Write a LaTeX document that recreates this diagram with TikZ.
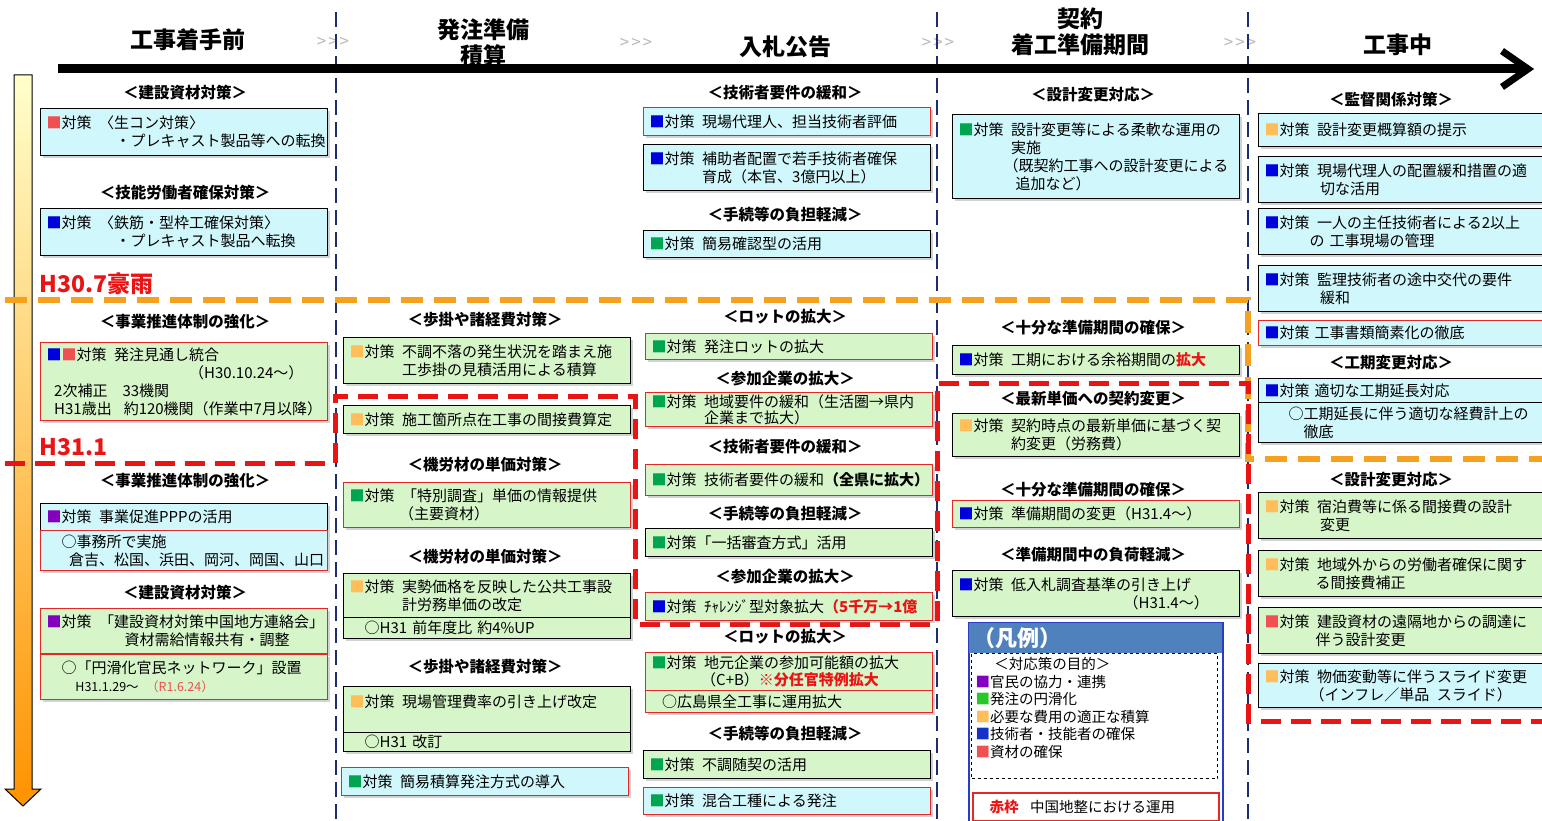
\documentclass[tikz,border=0pt]{standalone}
\usepackage{fontspec}
\setmainfont{Noto Sans CJK JP}
\usetikzlibrary{shadows}
\definecolor{cyanf}{RGB}{208,247,252}
\definecolor{greenf}{RGB}{214,246,202}
\definecolor{bred}{RGB}{228,40,40}
\definecolor{mred}{RGB}{240,80,80}
\definecolor{mblue}{RGB}{0,0,220}
\definecolor{mgreen}{RGB}{0,165,80}
\definecolor{morange}{RGB}{255,190,90}
\definecolor{mpurple}{RGB}{130,0,190}
\definecolor{lgreen}{RGB}{40,200,40}
\definecolor{lblue}{RGB}{20,50,200}
\definecolor{navy}{RGB}{30,45,110}
\definecolor{dorange}{RGB}{245,160,30}
\definecolor{dred}{RGB}{235,20,20}
\definecolor{legblue}{RGB}{79,129,189}
\definecolor{legedge}{RGB}{40,60,200}
\newcommand\mk[1]{\textcolor{#1}{■}}
\newcommand\tai{対策\hspace{0.5em}}
\newcommand\nb[1]{\mbox{#1}}
\newcommand\gts{>\kern2pt>\kern2pt>}
\tikzset{
  bx/.style={draw, line width=1.4pt, anchor=north west, text width=275pt,
    inner xsep=6pt, inner ysep=1pt, align=left,
    font=\fontsize{15}{18}\selectfont,
    drop shadow={shadow xshift=2pt, shadow yshift=-2.5pt, opacity=0.35}},
  cy/.style={bx, fill=cyanf},
  gr/.style={bx, fill=greenf},
  rb/.style={draw=bred},
  kb/.style={draw=black},
  hd/.style={font=\fontsize{15.5}{18}\selectfont\bfseries},
  top/.style={font=\fontsize{23}{25}\selectfont\bfseries},
  arr/.style={text=gray!55, font=\fontsize{17}{20}\selectfont},
  lab/.style={text=dred, anchor=west, font=\fontsize{23}{26}\selectfont\bfseries},
}
\begin{document}
\begin{tikzpicture}[x=1pt,y=-1pt]
\useasboundingbox (0,0) rectangle (1542,821);
\clip (0,0) rectangle (1542,821);
\fill[white] (0,0) rectangle (1542,821);

% header texts
\node[top] (t1) at (188,40) {工事着手前};
\node[top] (t2a) at (483,30) {発注準備};
\node[top] (t2b) at (483,56) {積算};
\node[top] (t3) at (785,47) {入札公告};
\node[top] (t4a) at (1080,19) {契約};
\node[top] (t4b) at (1080,45) {着工準備期間};
\node[top] (t5) at (1398,45) {工事中};
\node[arr] (g1) at (333,42) {\gts};
\node[arr] (g2) at (636,43) {\gts};
\node[arr] (g3) at (938,43) {\gts};
\node[arr] (g4) at (1240,43) {\gts};

% vertical navy dashed separators
\draw[navy, line width=2.2pt, dash pattern=on 15pt off 7pt] (336,12) -- (336,821);
\draw[navy, line width=2.2pt, dash pattern=on 15pt off 7pt] (937,12) -- (937,821);
\draw[navy, line width=2.2pt, dash pattern=on 15pt off 7pt] (1248,12) -- (1248,821);

% main timeline arrow
\draw[line width=9pt] (58,69) -- (1522,69);
\draw[line width=7pt, line join=miter] (1502,51) -- (1528,69) -- (1502,87);

% left vertical arrow
\draw[line width=1pt, top color=yellow!20, middle color=yellow, bottom color=orange!85!yellow]
  (14,75) -- (32,75) -- (32,789) -- (41,789) -- (23,806) -- (5,789) -- (14,789) -- cycle;

% orange and red dashed boundaries
\draw[dorange, line width=5.5pt, dash pattern=on 22pt off 11pt]
  (5,300) -- (1248,300) -- (1248,459) -- (1542,459);
\draw[dred, line width=5pt, dash pattern=on 20pt off 10pt]
  (5,463) -- (335,463) -- (335,396) -- (635,396) -- (635,624) -- (937,624)
  -- (937,383) -- (1248,383) -- (1248,721) -- (1542,721);

\node[lab] (lab1) at (36,284) {H30.7豪雨};
\node[lab] (lab2) at (36,447) {H31.1};

% ---------- column 1
\node[hd] (h1) at (185,93) {＜建設資材対策＞};
\node[cy,kb,minimum height=47pt] (a1) at (40,108)
  {\nb{\mk{mred}\tai〈生コン対策〉}\\\nb{\hspace*{4.6em}・プレキャスト製品等への転換}};
\node[hd] (h2) at (185,193) {＜技能労働者確保対策＞};
\node[cy,kb,minimum height=47pt] (a2) at (40,208)
  {\nb{\mk{mblue}\tai〈鉄筋・型枠工確保対策〉}\\\nb{\hspace*{4.6em}・プレキャスト製品へ転換}};
\node[hd] (h3) at (185,322) {＜事業推進体制の強化＞};
\node[gr,rb,minimum height=78pt] (a3) at (40,342)
  {\nb{\mk{mblue}\mk{mred}\tai 発注見通し統合}\\
   \nb{\hspace*{9.5em}（H30.10.24〜）}\\
   \nb{\hspace*{0.5em}2次補正\hspace{1em}33機関}\\
   \nb{\hspace*{0.5em}H31歳出\hspace{0.8em}約120機関（作業中7月以降）}};
\node[hd] (h4) at (185,481) {＜事業推進体制の強化＞};
\node[cy,kb,minimum height=27pt] (a4) at (40,503) {\nb{\mk{mpurple}\tai 事業促進PPPの活用}};
\node[cy,rb,minimum height=40pt] (a5) at (40,530)
  {\nb{\hspace*{1em}○事務所で実施}\\\nb{\hspace*{1.5em}倉吉、松国、浜田、岡河、岡国、山口}};
\node[hd] (h5) at (185,593) {＜建設資材対策＞};
\node[gr,rb,minimum height=45pt] (a6) at (40,608)
  {\nb{\mk{mpurple}\tai「建設資材対策中国地方連絡会」}\\\nb{\hspace*{5.2em}資材需給情報共有・調整}};
\node[gr,rb,minimum height=45pt] (a7) at (40,654)
  {\nb{\hspace*{1em}○「円滑化官民ネットワーク」設置}\\
   \nb{\fontsize{12.5}{18}\selectfont\hspace*{2.3em}H31.1.29〜\hspace{0.6em}\textcolor{mred}{（R1.6.24）}}};

% ---------- column 2
\node[hd] (h6) at (485,320) {＜歩掛や諸経費対策＞};
\node[gr,kb,minimum height=46pt] (b1) at (343,337)
  {\nb{\mk{morange}\tai 不調不落の発生状況を踏まえ施}\\\nb{\hspace*{3.5em}工歩掛の見積活用による積算}};
\node[gr,kb,minimum height=28pt] (b2) at (343,405) {\nb{\mk{morange}\tai 施工箇所点在工事の間接費算定}};
\node[hd] (h7) at (485,465) {＜機労材の単価対策＞};
\node[gr,rb,minimum height=45pt] (b3) at (343,482)
  {\nb{\mk{mgreen}\tai「特別調査」単価の情報提供}\\\nb{\hspace*{3.3em}（主要資材）}};
\node[hd] (h8) at (485,557) {＜機労材の単価対策＞};
\node[gr,kb,minimum height=44pt] (b4) at (343,573)
  {\nb{\mk{morange}\tai 実勢価格を反映した公共工事設}\\\nb{\hspace*{3.5em}計労務単価の改定}};
\node[gr,kb,minimum height=21pt] (b4s) at (343,617) {\nb{\hspace*{1em}○H31 前年度比 約4\%UP}};
\node[hd] (h9) at (485,667) {＜歩掛や諸経費対策＞};
\node[gr,kb,minimum height=46pt] (b5) at (343,686) {\nb{\mk{morange}\tai 現場管理費率の引き上げ改定}\\\mbox{}};
\node[gr,kb,minimum height=19pt] (b5s) at (343,732) {\nb{\hspace*{1em}○H31 改訂}};
\node[cy,rb,minimum height=28pt] (b6) at (341,767) {\nb{\mk{mgreen}\tai 簡易積算発注方式の導入}};

% ---------- column 3
\node[hd] (h10) at (785,93) {＜技術者要件の緩和＞};
\node[cy,rb,minimum height=28pt] (c1) at (643,107) {\nb{\mk{mblue}\tai 現場代理人、担当技術者評価}};
\node[cy,kb,minimum height=46pt] (c2) at (643,144)
  {\nb{\mk{mblue}\tai 補助者配置で若手技術者確保}\\\nb{\hspace*{3.5em}育成（本官、3億円以上）}};
\node[hd] (h11) at (785,215) {＜手続等の負担軽減＞};
\node[cy,kb,minimum height=27pt] (c3) at (643,230) {\nb{\mk{mgreen}\tai 簡易確認型の活用}};
\node[hd] (h12) at (785,317) {＜ロットの拡大＞};
\node[gr,rb,minimum height=26pt] (c4) at (645,333) {\nb{\mk{mgreen}\tai 発注ロットの拡大}};
\node[hd] (h13) at (785,379) {＜参加企業の拡大＞};
\node[gr,rb,minimum height=34pt,font=\fontsize{15}{16.5}\selectfont] (c5) at (645,392)
  {\nb{\mk{mgreen}\tai 地域要件の緩和（生活圏→県内}\\\nb{\hspace*{3.5em}企業まで拡大）}};
\node[hd] (h14) at (785,447) {＜技術者要件の緩和＞};
\node[gr,rb,minimum height=31pt] (c6) at (645,464) {\nb{\mk{mgreen}\tai 技術者要件の緩和{\bfseries（全県に拡大）}}};
\node[hd] (h15) at (785,514) {＜手続等の負担軽減＞};
\node[gr,kb,minimum height=28pt] (c7) at (645,528) {\nb{\mk{mgreen}対策「一括審査方式」活用}};
\node[hd] (h16) at (785,577) {＜参加企業の拡大＞};
\node[gr,rb,minimum height=28pt] (c8) at (645,592)
  {\nb{\mk{mblue}\tai ﾁｬﾚﾝｼﾞ型対象拡大\textcolor{dred}{\bfseries（5千万→1億}}};
\node[hd] (h17) at (785,637) {＜ロットの拡大＞};
\node[gr,rb,minimum height=38pt,font=\fontsize{15}{17}\selectfont] (c9) at (645,652)
  {\nb{\mk{mgreen}\tai 地元企業の参加可能額の拡大}\\\nb{\hspace*{3.3em}（C+B）\textcolor{dred}{\bfseries ※分任官特例拡大}}};
\node[gr,rb,minimum height=22pt] (c9s) at (645,690) {\nb{\hspace*{0.7em}○広島県全工事に運用拡大}};
\node[hd] (h18) at (785,734) {＜手続等の負担軽減＞};
\node[gr,kb,minimum height=28pt] (c10) at (643,750) {\nb{\mk{mgreen}\tai 不調随契の活用}};
\node[cy,rb,minimum height=27pt] (c11) at (643,787) {\nb{\mk{mgreen}\tai 混合工種による発注}};

% ---------- column 4
\node[hd] (h19) at (1093,95) {＜設計変更対応＞};
\node[cy,kb,minimum height=84pt] (d1) at (952,114)
  {\nb{\mk{mgreen}\tai 設計変更等による柔軟な運用の}\\\nb{\hspace*{3.5em}実施}\\
   \nb{\hspace*{3em}（既契約工事への設計変更による}\\\nb{\hspace*{3.8em}追加など）}};
\node[hd] (h20) at (1093,328) {＜十分な準備期間の確保＞};
\node[gr,kb,minimum height=29pt] (d2) at (952,345)
  {\nb{\mk{mblue}\tai 工期における余裕期間の\textcolor{dred}{\bfseries 拡大}}};
\node[hd] (h21) at (1093,399) {＜最新単価への契約変更＞};
\node[gr,kb,minimum height=43pt] (d3) at (952,413)
  {\nb{\mk{morange}\tai 契約時点の最新単価に基づく契}\\\nb{\hspace*{3.5em}約変更（労務費）}};
\node[hd] (h22) at (1093,490) {＜十分な準備期間の確保＞};
\node[gr,rb,minimum height=27pt] (d4) at (952,500) {\nb{\mk{mblue}\tai 準備期間の変更（H31.4〜）}};
\node[hd] (h23) at (1093,555) {＜準備期間中の負荷軽減＞};
\node[gr,kb,minimum height=46pt] (d5) at (952,570)
  {\nb{\mk{mblue}\tai 低入札調査基準の引き上げ}\\\nb{\hspace*{11em}（H31.4〜）}};

% legend
\node[draw=legedge, line width=1.6pt, fill=white, anchor=north west,
      minimum width=254pt, minimum height=210pt] (leg) at (968,622) {};
\node[fill=legblue, anchor=north west, minimum width=253pt, minimum height=30pt,
      text width=243pt, inner xsep=5pt, align=left, text=white,
      font=\fontsize{22}{24}\selectfont\bfseries] (legh) at (968.5,622.5) {（凡例）};
\node[draw, dashed, line width=1.2pt, anchor=north west, text width=238pt,
      inner xsep=4pt, inner ysep=4pt, align=left, fill=white,
      font=\fontsize{14.5}{17.5}\selectfont] (legd) at (971,653)
  {\hspace*{1.3em}＜対応策の目的＞\\
   \mk{mpurple}官民の協力・連携\\
   \mk{lgreen}発注の円滑化\\
   \mk{morange}必要な費用の適正な積算\\
   \mk{lblue}技術者・技能者の確保\\
   \mk{mred}資材の確保\\\mbox{}};
\node[draw=bred, line width=2pt, fill=white, anchor=north west, minimum height=28pt,
      text width=236pt, inner xsep=5pt, align=left,
      font=\fontsize{14.5}{17}\selectfont] (legr) at (972,792)
  {\hspace*{0.8em}\textcolor{dred}{\bfseries 赤枠}\hspace{0.8em}中国地整における運用};

% ---------- column 5
\node[hd] (h24) at (1391,100) {＜監督関係対策＞};
\node[cy,kb,minimum height=33pt] (e1) at (1258,113) {\nb{\mk{morange}\tai 設計変更概算額の提示}};
\node[cy,kb,minimum height=46pt] (e2) at (1258,156)
  {\nb{\mk{mblue}\tai 現場代理人の配置緩和措置の適}\\\nb{\hspace*{3.7em}切な活用}};
\node[cy,kb,minimum height=46pt] (e3) at (1258,208)
  {\nb{\mk{mblue}\tai 一人の主任技術者による2以上}\\\nb{\hspace*{3em}の 工事現場の管理}};
\node[cy,kb,minimum height=46pt] (e4) at (1258,265)
  {\nb{\mk{mblue}\tai 監理技術者の途中交代の要件}\\\nb{\hspace*{3.7em}緩和}};
\node[cy,rb,minimum height=25pt] (e5) at (1258,320) {\nb{\mk{mblue}対策 工事書類簡素化の徹底}};
\node[hd] (h25) at (1391,363) {＜工期変更対応＞};
\node[cy,kb,minimum height=24pt] (e6) at (1258,378) {\nb{\mk{mblue}対策 適切な工期延長対応}};
\node[cy,kb,minimum height=40pt] (e6s) at (1258,402)
  {\nb{\hspace*{1.6em}○工期延長に伴う適切な経費計上の}\\\nb{\hspace*{2.6em}徹底}};
\node[hd] (h26) at (1391,480) {＜設計変更対応＞};
\node[gr,kb,minimum height=46pt] (e7) at (1258,492)
  {\nb{\mk{morange}\tai 宿泊費等に係る間接費の設計}\\\nb{\hspace*{3.7em}変更}};
\node[gr,kb,minimum height=46pt] (e8) at (1258,550)
  {\nb{\mk{morange}\tai 地域外からの労働者確保に関す}\\\nb{\hspace*{3.4em}る間接費補正}};
\node[gr,kb,minimum height=46pt] (e9) at (1258,607)
  {\nb{\mk{mred}\tai 建設資材の遠隔地からの調達に}\\\nb{\hspace*{3.4em}伴う設計変更}};
\node[cy,kb,minimum height=44pt] (e10) at (1258,663)
  {\nb{\mk{morange}\tai 物価変動等に伴うスライド変更}\\\nb{\hspace*{3em}（インフレ／単品\hspace{0.5em}スライド）}};
\end{tikzpicture}
\end{document}
